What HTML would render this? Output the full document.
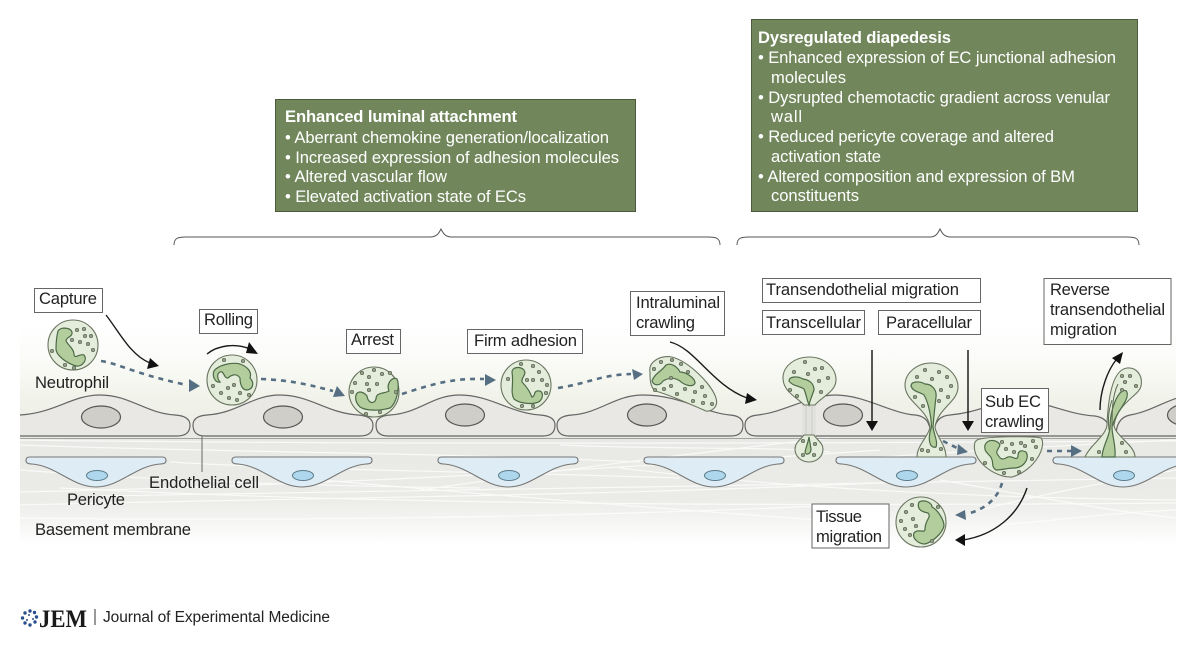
<!DOCTYPE html>
<html><head><meta charset="utf-8"><style>
html,body{margin:0;padding:0;background:#fff;width:1200px;height:651px;overflow:hidden}
svg{display:block}
text{font-family:"Liberation Sans",sans-serif;font-size:16.6px;fill:#222}
.lb{fill:#fff;stroke:#666;stroke-width:1}
.g text,text.w{fill:#fff}
.ec{fill:#e9e8e4;stroke:#666;stroke-width:1.2}
.nu{fill:#cfcec9;stroke:#555;stroke-width:1.2}
.pc{fill:#deedf5;stroke:#777;stroke-width:1.1}
.pn{fill:#aed6ec;stroke:#5b7a88;stroke-width:1}
.c{fill:#e4eddb;stroke:#6a7560;stroke-width:1.1}
.n{fill:#b4cd9c;stroke:#4c6a48;stroke-width:1.2}
.dash{fill:none;stroke:#566f82;stroke-width:2.6;stroke-dasharray:5 5}
.dh{fill:#566f82}
.bl{fill:none;stroke:#1a1a1a;stroke-width:1.4}
.st{fill:none;stroke:#fff;stroke-width:1.2;opacity:.75}
.dots circle{fill:#93a08a;stroke:#5a6652;stroke-width:.7;r:1.7px}
</style></head><body>
<svg width="1200" height="651" viewBox="0 0 1200 651" xmlns="http://www.w3.org/2000/svg">
<defs>
<linearGradient id="a" x1="0" y1="0" x2="0" y2="1"><stop offset="0" stop-color="#fff"/><stop offset=".3" stop-color="#fbfcf9"/><stop offset=".7" stop-color="#f1f3ea"/><stop offset="1" stop-color="#ecede5"/></linearGradient>
<linearGradient id="b" x1="0" y1="0" x2="0" y2="1"><stop offset="0" stop-color="#e8e8e5"/><stop offset=".6" stop-color="#ebebe8"/><stop offset="1" stop-color="#fff"/></linearGradient>
<clipPath id="bm"><rect x="20" y="330" width="1156" height="215"/></clipPath>
</defs>
<rect x="20" y="325" width="1156" height="105" fill="url(#a)"/>
<rect x="20" y="430" width="1156" height="115" fill="url(#b)"/>
<g class="st">
<path d="M20 440 C300 444 700 444 1176 441"/><path d="M20 445 C200 452 420 452 640 462"/><path d="M830 438 C700 452 560 470 420 490"/>
<path d="M170 462 C300 470 500 472 680 478"/><path d="M20 492 C300 486 600 470 880 450"/><path d="M60 488 C300 500 600 508 1176 503"/>
<path d="M20 505 C300 498 600 496 900 482"/><path d="M100 496 C350 492 700 488 1176 478"/><path d="M20 470 C150 480 300 486 480 488"/>
<path d="M940 480 C1000 490 1100 510 1176 518"/><path d="M980 510 C1060 490 1120 480 1176 470"/><path d="M620 468 C800 490 1000 498 1176 500"/>
<path d="M300 478 C500 496 680 510 820 520"/><path d="M20 518 C300 522 600 516 820 506"/><path d="M840 460 C950 452 1050 446 1176 440"/>
<path d="M560 445 C680 450 760 446 830 452"/><path d="M1000 525 C1060 520 1120 512 1176 510"/>
</g>
<line x1="20" y1="438.500" x2="1176" y2="438.500" stroke="#8a8a86" stroke-width=".8"/>

<!-- endothelial cells -->
<g clip-path="url(#bm)">
<path class="ec" d="M10 415 L20 415 C55 413 72 395 100 395 C130 395 145 413 175 415 Q190 416 190 425 Q190 436 177 436 L10 436Z"/>
<path class="ec" d="M1116 436 Q1116 418 1130 415 C1150 412 1165 400 1190 394 L1190 436Z"/>
<ellipse class="nu" cx="1187" cy="415" rx="19.500" ry="11"/>
</g>
<path class="ec" d="M193 425 Q193 416 207 415 C238 413 252 395 280 395 C310 395 327 413 358 415 Q373 416 373 425 Q373 436 360 436 L205 436 Q193 436 193 425Z"/>
<path class="ec" d="M376 425 Q376 416 390 415 C420 413 432 395 460 395 C490 395 510 413 540 415 Q555 416 555 425 Q555 436 543 436 L388 436 Q376 436 376 425Z"/>
<path class="ec" d="M557 425 Q557 416 572 415 C600 413 615 395 643 395 C680 395 705 413 730 415 Q743 416 743 425 Q743 436 731 436 L569 436 Q557 436 557 425Z"/>
<path class="ec" d="M745 425 Q745 416 758 415 C785 412 810 395 835 395 C865 395 890 413 915 415 Q926 416 929 425 L933 436 L757 436 Q745 436 745 425Z"/>
<path class="ec" d="M934 430 Q936 416 950 415 C985 412 1000 396 1035 402 C1060 408 1075 415 1095 416 Q1106 418 1108 425 L1106 436 L934 436Z"/>
<g class="nu">
<ellipse cx="101" cy="417" rx="19.500" ry="11"/><ellipse cx="283" cy="417" rx="19.500" ry="11"/><ellipse cx="465" cy="415" rx="19.500" ry="11"/><ellipse cx="647" cy="415" rx="19.500" ry="11"/><ellipse cx="843" cy="415" rx="19.500" ry="11"/>
</g>

<!-- pericytes -->
<g id="p"><path class="pc" d="M30 457 H162 Q166 457 166 460.500 Q166 464 160 464 C135 466 120 487 96 487 C72 487 57 466 32 464 Q26 464 26 460.500 Q26 457 30 457Z"/><ellipse class="pn" cx="97" cy="475.500" rx="10.500" ry="5"/></g>
<use href="#p" x="206"/><use href="#p" x="412"/><use href="#p" x="618"/><use href="#p" x="810"/>
<g clip-path="url(#bm)"><use href="#p" x="1027"/></g>
<line x1="202" y1="436" x2="202" y2="472" stroke="#666" stroke-width="1"/>

<!-- neutrophil 1 -->
<circle class="c" cx="73" cy="345" r="25"/>
<path class="n" d="M58 331 C60 327 70 327 72 332 C73 337 66 337 66 341 C68 345 74 349 74 354 C74 360 80 353 84 355 C88 360 82 367 76 366 C66 363 56 355 56 349 C56 342 57 335 58 331Z"/>
<g class="dots"><circle cx="77" cy="330"/><circle cx="84" cy="329"/><circle cx="72" cy="340"/><circle cx="80" cy="342"/><circle cx="88" cy="344"/><circle cx="85" cy="336"/><circle cx="93" cy="350"/><circle cx="52" cy="351"/><circle cx="65" cy="365"/><circle cx="74" cy="368"/><circle cx="91" cy="336"/></g>
<!-- rolling -->
<circle class="c" cx="232" cy="380" r="25"/>
<path class="n" d="M214 371 C218 365 232 362 240 364 C248 367 252 372 250 378 C254 382 254 389 247 390 C241 390 240 382 240 378 C236 372 230 376 228 378 C224 379 224 370 220 372 C216 374 218 380 220 382 C215 383 212 376 214 371Z"/>
<g class="dots"><circle cx="224" cy="360"/><circle cx="243" cy="361"/><circle cx="234" cy="385"/><circle cx="228" cy="388"/><circle cx="213" cy="386"/><circle cx="221" cy="393"/><circle cx="229" cy="398"/><circle cx="237" cy="400"/><circle cx="249" cy="395"/><circle cx="240" cy="393"/></g>
<!-- arrest -->
<circle class="c" cx="374" cy="392" r="25"/>
<path class="n" d="M356 395 C358 390 364 392 367 396 C368 403 374 405 376 399 C376 392 384 394 389 391 C386 384 392 376 397 379 C400 386 397 403 390 408 C380 411 366 411 360 407 C356 403 355 399 356 395Z"/>
<g class="dots"><circle cx="374" cy="370"/><circle cx="362" cy="373"/><circle cx="382" cy="374"/><circle cx="369" cy="377"/><circle cx="355" cy="383"/><circle cx="367" cy="384"/><circle cx="377" cy="384"/><circle cx="352" cy="392"/><circle cx="369" cy="390"/><circle cx="366" cy="414"/><circle cx="390" cy="373"/><circle cx="396" cy="392"/><circle cx="380" cy="412"/></g>
<!-- firm adhesion -->
<circle class="c" cx="526" cy="385" r="25"/>
<path class="n" d="M512 372 C512 367 520 366 524 370 C527 375 521 377 522 382 C526 386 530 392 532 397 C536 396 533 392 537 391 C543 390 544 396 540 401 C535 405 520 404 514 399 C510 392 514 385 512 372Z"/>
<g class="dots"><circle cx="521" cy="364"/><circle cx="533" cy="366"/><circle cx="539" cy="372"/><circle cx="527" cy="380"/><circle cx="533" cy="380"/><circle cx="542" cy="380"/><circle cx="547" cy="385"/><circle cx="508" cy="379"/><circle cx="522" cy="406"/><circle cx="533" cy="406"/><circle cx="546" cy="393"/></g>
<!-- intraluminal -->
<path class="c" d="M650 372 C648 362 660 355 672 357 C690 362 712 385 716 398 C719 408 710 412 706 411 C690 404 665 393 655 391 C650 386 650 380 650 372Z"/>
<path class="n" d="M652 381 C654 374 662 371 666 365 C672 362 678 368 680 372 C686 372 695 378 695 383 C693 388 684 385 680 381 C674 377 668 378 663 381 C660 386 654 386 652 381Z"/>
<g class="dots"><circle cx="661" cy="362"/><circle cx="672" cy="360"/><circle cx="681" cy="364"/><circle cx="654" cy="369"/><circle cx="688" cy="372"/><circle cx="664" cy="389"/><circle cx="671" cy="386"/><circle cx="677" cy="394"/><circle cx="671" cy="378"/><circle cx="685" cy="389"/><circle cx="695" cy="392"/><circle cx="702" cy="387"/><circle cx="705" cy="396"/><circle cx="693" cy="401"/><circle cx="703" cy="403"/><circle cx="712" cy="404"/><circle cx="655" cy="390"/></g>

<!-- transcellular -->
<path d="M806 400 C806 415 806 425 806 438 M812 400 C812 415 812 425 812 438" stroke="#9a9a96" stroke-width="1" fill="none" opacity=".7"/>
<rect x="802" y="403" width="14" height="34" fill="#dcdcd8" opacity=".6"/>
<path class="c" d="M809 357 C825 357 836 368 836 380 C836 392 820 398 815 405 L804 405 C798 398 783 392 783 378 C783 366 795 357 809 357Z"/>
<path class="c" d="M804 435 C800 440 795 443 795 449 C795 457 802 462 809 462 C816 462 823 457 823 449 C823 443 817 440 814 435Z"/>
<path class="n" d="M789 381 C789 376 798 376 803 379 C810 380 814 384 814 390 C812 396 810 400 809 405 C807 400 806 394 804 389 C800 386 792 386 789 381Z"/>
<path class="n" d="M809 437 L811 449 C811 454 806 456 805 452 C806 447 808 443 809 437Z"/>
<g class="dots"><circle cx="805" cy="362"/><circle cx="794" cy="372"/><circle cx="808" cy="374"/><circle cx="815" cy="369"/><circle cx="822" cy="368"/><circle cx="828" cy="378"/><circle cx="819" cy="381"/><circle cx="790" cy="390"/><circle cx="797" cy="396"/><circle cx="821" cy="392"/><circle cx="803" cy="441"/><circle cx="803" cy="455"/><circle cx="814" cy="455"/><circle cx="815" cy="444"/></g>
<!-- paracellular -->
<path class="c" d="M931 363 C947 363 958 376 958 387 C958 402 938 408 935 427 C936 436 946 445 946 457 L917 457 C917 445 929 436 930 427 C927 408 905 402 905 385 C905 373 917 363 931 363Z"/>
<path class="n" d="M911 386 C911 381 920 381 925 384 C932 384 937 390 936 397 C935 405 934 415 933 427 C934 435 938 441 936 447 C930 449 927 440 931.500 427 C931 412 927 400 924 395 C920 392 913 392 911 386Z"/>
<g class="dots"><circle cx="917" cy="377"/><circle cx="925" cy="370"/><circle cx="932" cy="379"/><circle cx="939" cy="372"/><circle cx="947" cy="377"/><circle cx="951" cy="386"/><circle cx="941" cy="390"/><circle cx="948" cy="397"/><circle cx="915" cy="397"/><circle cx="923" cy="406"/><circle cx="939" cy="401"/><circle cx="922" cy="450"/><circle cx="928" cy="451"/><circle cx="941" cy="449"/></g>
<!-- reverse -->
<path class="c" d="M1127 368 C1137 367 1143 376 1141 386 C1139 396 1118 402 1114 425 C1115 436 1135 445 1135 457 L1085 457 C1090 445 1106 436 1107 425 C1108 400 1112 370 1127 368Z"/>
<path class="n" d="M1120 393 C1126 388 1128 391 1127 397 C1125 405 1116 412 1112 427 C1112 436 1116 445 1115 457 L1102 457 C1102 447 1110 436 1110 427 C1110 415 1114 400 1120 393Z"/>
<path d="M1112 400 C1108 412 1108 420 1109 430 M1118 384 C1112 396 1112 412 1112 430" fill="none" stroke="#5f6b55" stroke-width="1"/>
<g class="dots"><circle cx="1122" cy="376"/><circle cx="1130" cy="376"/><circle cx="1136" cy="386"/><circle cx="1125" cy="382"/><circle cx="1122" cy="390"/><circle cx="1099" cy="452"/><circle cx="1122" cy="443"/><circle cx="1126" cy="452"/></g>
<!-- sub EC -->
<path class="c" d="M977 440 C985 436 1035 436 1041 438 C1047 445 1036 470 1012 477 C995 478 970 460 975 442Z"/>
<path class="n" d="M985 445 C988 438 998 440 1000 445 C998 450 995 452 998 455 C1002 462 1005 458 1008 457 C1012 455 1017 462 1018 456 C1018 450 1022 450 1026 452 C1030 458 1024 468 1014 468 C1008 468 1002 470 996 470 C990 466 995 462 990 456 C986 452 984 450 985 445Z"/>
<g class="dots"><circle cx="1002" cy="442"/><circle cx="1012" cy="444"/><circle cx="1021" cy="443"/><circle cx="1033" cy="441"/><circle cx="1006" cy="449"/><circle cx="1014" cy="452"/><circle cx="1025" cy="446"/><circle cx="1036" cy="447"/><circle cx="1032" cy="459"/><circle cx="985" cy="463"/><circle cx="1004" cy="473"/><circle cx="1019" cy="472"/></g>
<!-- tissue -->
<circle class="c" cx="921" cy="522" r="25"/>
<path class="n" d="M919 502 C925 499 932 503 932 507 C938 510 944 520 944 526 C942 534 932 542 925 544 C918 544 912 538 914 533 C918 528 925 534 925 529 C925 520 932 517 928 513 C923 512 916 510 919 502Z"/>
<g class="dots"><circle cx="912" cy="505"/><circle cx="906" cy="512"/><circle cx="901" cy="521"/><circle cx="913" cy="519"/><circle cx="916" cy="526"/><circle cx="905" cy="529"/><circle cx="910" cy="535"/><circle cx="938" cy="507"/><circle cx="932" cy="541"/></g>

<!-- dashed arrows -->
<path class="dash" d="M101 361 C120 364 135 374 187 385"/><path class="dh" d="M200 386 L189 379 L189 392Z"/>
<path class="dash" d="M261 379 C290 380 310 385 333 391"/><path class="dh" d="M345 396 L337 386 L333 397Z"/>
<path class="dash" d="M402 394 C430 385 450 378 484 379"/><path class="dh" d="M496 380 L485 374 L485 386Z"/>
<path class="dash" d="M558 388 C590 383 600 375 631 374"/><path class="dh" d="M643 374 L632 369 L634 380Z"/>
<path class="dash" d="M943 441 L957 448" stroke-dasharray="4 4"/><path class="dh" d="M968 452 L958 444 L957 455Z"/>
<path class="dash" d="M1047 451 H1071" stroke-dasharray="5 5"/><path class="dh" d="M1082 451 L1071 445 L1071 457Z"/>
<path class="dash" d="M1002 483 C998 498 985 510 966 514"/><path class="dh" d="M955 515 L965 510 L966 520Z"/>

<!-- black arrows -->
<path class="bl" d="M106 315 C118 330 130 355 150 363" stroke-width="1.700"/><path d="M159 366 L147 369 L150 358Z" fill="#111"/>
<path class="bl" d="M207 354 C218 345 236 343 250 349"/><path d="M258 354 L246 353 L249 342Z" fill="#111"/>
<path class="bl" d="M670 342 C695 348 712 385 747 398"/><path d="M757 400 L745 404 L747 393Z" fill="#111"/>
<line x1="872" y1="350" x2="872" y2="422" stroke="#111" stroke-width="1.400"/><path d="M872 431 L866 421 H878Z" fill="#111"/>
<line x1="968" y1="350" x2="968" y2="422" stroke="#111" stroke-width="1.400"/><path d="M968 431 L962 421 H974Z" fill="#111"/>
<path class="bl" d="M1100 410 C1100 390 1108 370 1116 360"/><path d="M1123 352 L1112 358 L1120 364Z" fill="#111"/>
<path class="bl" d="M1027 488 C1018 515 995 535 963 540" stroke-width="1.800"/><path d="M955 540 L965 534 L965 546Z" fill="#111"/>

<!-- braces -->
<path d="M174 245 C174 238 178 237 186 237 H430 C437 237 439 233 441 229 C443 233 445 237 452 237 H708 C716 237 720 238 720 245" fill="none" stroke="#555" stroke-width="1"/>
<path d="M737 245 C737 238 741 237 749 237 H930 C936 237 938 233 940 229 C942 233 944 237 951 237 H1127 C1135 237 1139 238 1139 245" fill="none" stroke="#555" stroke-width="1"/>

<!-- green boxes -->
<rect x="275.500" y="99.500" width="360" height="112" fill="#71875b" stroke="#4d5a3e"/>
<rect x="751.500" y="19.500" width="386" height="192" fill="#71875b" stroke="#4d5a3e"/>
<g class="g">
<text x="285" y="122" style="font-weight:bold" textLength="232">Enhanced luminal attachment</text>
<text x="285" y="143" textLength="324">• Aberrant chemokine generation/localization</text>
<text x="285" y="163" textLength="334">• Increased expression of adhesion molecules</text>
<text x="285" y="182" textLength="162">• Altered vascular flow</text>
<text x="285" y="202" textLength="241">• Elevated activation state of ECs</text>
<text x="758" y="43" style="font-weight:bold" textLength="193">Dysregulated diapedesis</text>
<text x="758" y="63" textLength="358">• Enhanced expression of EC junctional adhesion</text>
<text x="771" y="83" textLength="75">molecules</text>
<text x="758" y="103" textLength="352">• Dysrupted chemotactic gradient across venular</text>
<text x="771" y="122" textLength="31">wall</text>
<text x="758" y="142" textLength="296">• Reduced pericyte coverage and altered</text>
<text x="771" y="162" textLength="110">activation state</text>
<text x="758" y="182" textLength="317">• Altered composition and expression of BM</text>
<text x="771" y="201" textLength="88">constituents</text>
</g>

<!-- label boxes -->
<rect class="lb" x="34.500" y="288.500" width="68" height="24"/><text x="39" y="304" textLength="58">Capture</text>
<rect class="lb" x="199.500" y="309.500" width="58" height="24"/><text x="204" y="325" textLength="49">Rolling</text>
<rect class="lb" x="346.500" y="329.500" width="54" height="24"/><text x="351" y="345" textLength="43">Arrest</text>
<rect class="lb" x="467.500" y="329.500" width="115" height="24"/><text x="474" y="346" textLength="103">Firm adhesion</text>
<rect class="lb" x="630.500" y="291.500" width="94" height="44"/><text x="636" y="308" textLength="84">Intraluminal</text><text x="636" y="328" textLength="59">crawling</text>
<rect class="lb" x="762.500" y="278.500" width="218" height="24"/><text x="766" y="295" textLength="193">Transendothelial migration</text>
<rect class="lb" x="762.500" y="310.500" width="102" height="24"/><text x="766" y="328" textLength="95">Transcellular</text>
<rect class="lb" x="878.500" y="310.500" width="102" height="24"/><text x="886" y="328" textLength="86">Paracellular</text>
<rect class="lb" x="1044" y="278.500" width="127" height="66"/><text x="1050" y="295" textLength="60">Reverse</text><text x="1050" y="315" textLength="115">transendothelial</text><text x="1050" y="335" textLength="67">migration</text>
<rect class="lb" x="981.500" y="388.500" width="67" height="44"/><text x="985" y="407" textLength="56">Sub EC</text><text x="985" y="427" textLength="59">crawling</text>
<rect class="lb" x="812" y="504" width="77" height="44"/><text x="816" y="522" textLength="46">Tissue</text><text x="816" y="542" textLength="66">migration</text>
<text x="35" y="388" textLength="74">Neutrophil</text>
<text x="67" y="505" textLength="58">Pericyte</text>
<text x="149" y="488" textLength="110">Endothelial cell</text>
<text x="35" y="535" textLength="156">Basement membrane</text>

<!-- logo -->
<g fill="#2a4f8f"><circle cx="30" cy="611" r="1.700"/><circle cx="34.500" cy="612.500" r="1.700"/><circle cx="36.500" cy="617" r="1.700"/><circle cx="35" cy="622" r="1.700"/><circle cx="30" cy="625" r="1.700"/><circle cx="25" cy="623" r="1.700"/><circle cx="22.500" cy="618" r="1.700"/><circle cx="25" cy="613" r="1.700"/><circle cx="29" cy="615" r="1"/><circle cx="33" cy="619" r="1"/><circle cx="27" cy="620" r="1"/></g>
<text x="39" y="627" style="font-family:'Liberation Serif',serif;font-size:25px;font-weight:bold;fill:#1a1a1a" textLength="48" lengthAdjust="spacingAndGlyphs">JEM</text>
<line x1="95" y1="609" x2="95" y2="625" stroke="#333" stroke-width="1"/>
<text x="103" y="622" style="font-size:15.500px;fill:#222" textLength="227">Journal of Experimental Medicine</text>
</svg>
</body></html>
